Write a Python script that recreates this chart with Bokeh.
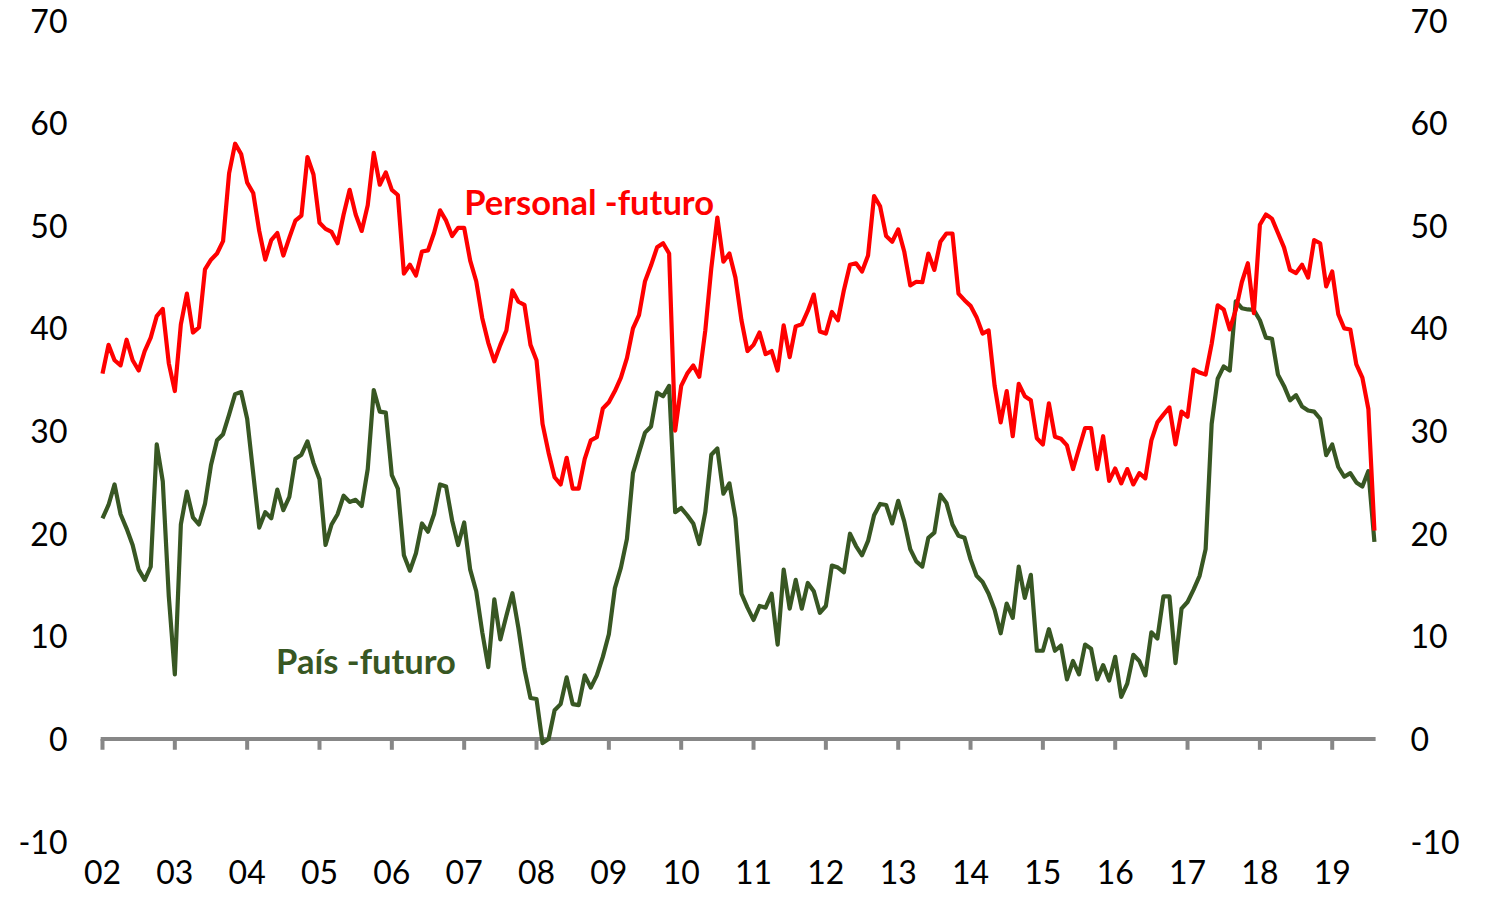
import numpy as np
from bokeh.plotting import figure
from bokeh.models import Range1d, Label
from bokeh.core.properties import value
from bokeh.embed import file_html
from bokeh.resources import INLINE

# Monthly series, Jan 2002 .. Aug 2019
personal = [
    35.6, 38.4, 36.9, 36.4, 38.9, 36.9, 35.9, 37.8, 39.1, 41.2, 41.9, 36.6,   # 2002
    33.9, 40.4, 43.4, 39.6, 40.1, 45.75, 46.7, 47.3, 48.5, 55.1, 58.0, 57.0,  # 2003
    54.2, 53.2, 49.5, 46.7, 48.6, 49.3, 47.1, 48.85, 50.5, 51.0, 56.7, 55.0,  # 2004
    50.3, 49.7, 49.4, 48.3, 51.1, 53.5, 51.1, 49.5, 52.0, 57.1, 54.0, 55.2,   # 2005
    53.5, 53.0, 45.35, 46.2, 45.15, 47.5, 47.6, 49.3, 51.5, 50.5, 49.0, 49.8, # 2006
    49.8, 46.6, 44.6, 41.0, 38.6, 36.8, 38.4, 39.8, 43.7, 42.6, 42.3, 38.4,   # 2007
    36.9, 30.7, 27.9, 25.5, 24.8, 27.4, 24.4, 24.4, 27.3, 29.1, 29.4, 32.2,   # 2008
    32.8, 33.9, 35.2, 37.1, 40.0, 41.3, 44.6, 46.15, 47.9, 48.3, 47.3, 30.05, # 2009
    34.4, 35.6, 36.4, 35.3, 39.8, 45.9, 50.8, 46.5, 47.3, 44.95, 40.8, 37.8,  # 2010
    38.4, 39.6, 37.5, 37.8, 35.9, 40.3, 37.2, 40.2, 40.4, 41.7, 43.3, 39.7,   # 2011
    39.5, 41.6, 40.8, 43.75, 46.2, 46.35, 45.55, 47.1, 52.9, 51.9, 49.0, 48.45,  # 2012
    49.65, 47.5, 44.2, 44.55, 44.5, 47.3, 45.7, 48.45, 49.25, 49.25, 43.4, 42.75,  # 2013
    42.2, 41.1, 39.5, 39.8, 34.4, 30.85, 33.9, 29.5, 34.6, 33.4, 33.0, 29.3,  # 2014
    28.7, 32.7, 29.45, 29.25, 28.6, 26.3, 28.3, 30.3, 30.3, 26.3, 29.5, 25.15,  # 2015
    26.35, 24.9, 26.3, 24.8, 25.9, 25.4, 29.1, 30.85, 31.6, 32.3, 28.7, 31.9,  # 2016
    31.4, 36.0, 35.7, 35.5, 38.5, 42.25, 41.85, 39.9, 41.8, 44.5, 46.35, 41.5,  # 2017
    50.1, 51.1, 50.7, 49.3, 47.9, 45.7, 45.4, 46.2, 44.95, 48.6, 48.3, 44.1,  # 2018
    45.55, 41.4, 40.0, 39.9, 36.5, 35.2, 32.15, 20.3,                         # 2019
]

pais = [
    21.5, 22.8, 24.8, 21.9, 20.5, 18.9, 16.5, 15.5, 16.8, 28.7, 25.1, 13.9,   # 2002
    6.3, 20.9, 24.1, 21.6, 20.9, 22.9, 26.7, 29.1, 29.7, 31.6, 33.6, 33.8,    # 2003
    31.2, 25.9, 20.6, 22.1, 21.5, 24.3, 22.3, 23.6, 27.3, 27.7, 29.0, 26.9,   # 2004
    25.3, 18.9, 20.9, 21.9, 23.7, 23.1, 23.3, 22.7, 26.3, 34.0, 31.9, 31.8,   # 2005
    25.7, 24.4, 17.9, 16.4, 18.1, 21.0, 20.2, 21.9, 24.8, 24.6, 21.3, 18.9,   # 2006
    21.1, 16.5, 14.4, 10.4, 7.0, 13.6, 9.7, 12.0, 14.2, 10.8, 6.8, 4.0,       # 2007
    3.9, -0.4, 0.0, 2.8, 3.4, 6.0, 3.4, 3.3, 6.2, 5.0, 6.2, 8.0,              # 2008
    10.2, 14.7, 16.7, 19.5, 25.9, 27.9, 29.85, 30.45, 33.75, 33.4, 34.4, 22.1,  # 2009
    22.5, 21.8, 21.0, 19.0, 22.1, 27.7, 28.3, 23.9, 24.9, 21.5, 14.15, 12.8,  # 2010
    11.6, 12.96, 12.8, 14.15, 9.2, 16.5, 12.7, 15.5, 12.7, 15.2, 14.4, 12.3,  # 2011
    12.96, 16.9, 16.7, 16.25, 20.0, 18.8, 17.9, 19.3, 21.8, 22.9, 22.8, 21.0,  # 2012
    23.2, 21.2, 18.5, 17.3, 16.8, 19.6, 20.1, 23.8, 23.0, 20.9, 19.8, 19.6,   # 2013
    17.5, 15.9, 15.3, 14.15, 12.6, 10.3, 13.2, 11.8, 16.8, 13.75, 16.0, 8.6,  # 2014
    8.6, 10.7, 8.6, 9.1, 5.8, 7.6, 6.3, 9.2, 8.8, 5.8, 7.2, 5.7,              # 2015
    8.0, 4.1, 5.4, 8.2, 7.6, 6.2, 10.4, 9.8, 13.9, 13.9, 7.4, 12.7,           # 2016
    13.35, 14.55, 15.9, 18.5, 30.7, 35.1, 36.3, 35.9, 42.65, 41.97, 41.85, 41.8,  # 2017
    40.8, 39.1, 39.0, 35.5, 34.4, 33.0, 33.5, 32.4, 32.0, 31.9, 31.2, 27.65,  # 2018
    28.7, 26.5, 25.55, 25.9, 25.0, 24.6, 26.1, 19.2,                          # 2019
]

year_labels = ["02", "03", "04", "05", "06", "07", "08", "09", "10",
               "11", "12", "13", "14", "15", "16", "17", "18", "19"]
y_ticks = [-10, 0, 10, 20, 30, 40, 50, 60, 70]
y_tick_labels = ["-10", "0", "10", "20", "30", "40", "50", "60", "70"]

RED = "#FF0000"
GREEN = "#385723"
GRAY = "#878787"
FONT = "Lato"

n = len(personal)
months = np.arange(n)
year_pos = [12 * i for i in range(len(year_labels))]

# The frame fills the whole canvas; axes are drawn by hand in data units.
p = figure(width=1470, height=890, output_backend="svg", toolbar_location=None,
           x_range=Range1d(-16.92, 226.94), y_range=Range1d(-14.76, 71.95),
           x_axis_type=None, y_axis_type=None,
           min_border=0, min_border_left=0, min_border_right=0,
           min_border_top=0, min_border_bottom=0)
p.outline_line_color = None
p.xgrid.visible = False
p.ygrid.visible = False
p.background_fill_color = "white"
p.border_fill_color = "white"

# zero axis line with year ticks
p.line(x=[-0.3, n - 1 + 0.2], y=[0, 0], line_color=GRAY, line_width=4, line_cap="butt")
p.segment(x0=year_pos, y0=[0] * len(year_pos), x1=year_pos, y1=[-1.05] * len(year_pos),
          line_color=GRAY, line_width=4, line_cap="butt")

p.line(months, pais, line_color=GREEN, line_width=4.2, line_join="round")
p.line(months, personal, line_color=RED, line_width=4.2, line_join="round")

# tick labels
lab_kw = dict(text_font=value(FONT), text_font_size="32px", text_color="black",
              text_baseline="middle")
p.text(x=[-5.81] * len(y_ticks), y=y_ticks, text=y_tick_labels, text_align="right", **lab_kw)
p.text(x=[216.99] * len(y_ticks), y=y_ticks, text=y_tick_labels, text_align="left", **lab_kw)
p.text(x=year_pos, y=[-12.91] * len(year_pos), text=year_labels, text_align="center", **lab_kw)

p.add_layout(Label(x=60, y=52.4, text="Personal -futuro", text_color=RED,
                   text_font=FONT, text_font_style="bold", text_font_size="34.5px",
                   text_baseline="middle", text_align="left"))
p.add_layout(Label(x=28.8, y=7.6, text="País -futuro", text_color=GREEN,
                   text_font=FONT, text_font_style="bold", text_font_size="34.5px",
                   text_baseline="middle", text_align="left"))

open("out.html", "w").write(file_html(p, INLINE))
